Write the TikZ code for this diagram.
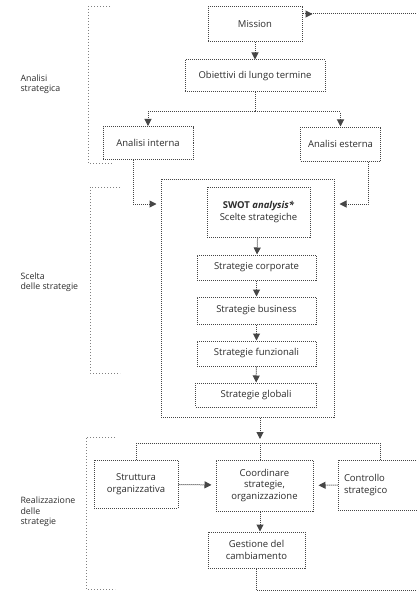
\documentclass[tikz,border=0pt]{standalone}
\usepackage{fontspec}
\setmainfont{Open Sans}
\definecolor{inkgray}{RGB}{45,45,45}
\definecolor{dotgray}{RGB}{70,70,70}
\usetikzlibrary{arrows.meta,calc}

\begin{document}
\begin{tikzpicture}[x=1pt, y=-1pt,
  box/.style={draw=dotgray, densely dotted, line width=1pt, text=inkgray, align=center, font=\fontsize{9.5}{11.5}\selectfont, inner sep=2pt},
  link/.style={draw=dotgray, densely dotted, line width=1pt},
  tip/.style={link, -{Triangle[width=7pt,length=7pt]}},
  bracket/.style={draw=gray, dotted, line width=1pt},
  phase/.style={text=inkgray, align=left, anchor=west, font=\fontsize{8.8}{10.5}\selectfont}]
  \useasboundingbox (0,0) rectangle (416,591);
  \fill[white] (0,0) rectangle (416,591);

  \node[box, minimum width=94pt, minimum height=35pt] (mission) at (255,24.5) {Mission};
  \node[box, minimum width=140pt, minimum height=32pt] (goals) at (255,76) {Obiettivi di lungo termine};
  \node[box, minimum width=90pt, minimum height=33pt] (internal) at (148,143) {Analisi interna};
  \node[box, minimum width=80pt, minimum height=34pt] (external) at (340.5,144) {Analisi esterna};
  \node[box, minimum width=173pt, minimum height=238pt] (choice) at (247.5,298) {};
  \node[box, minimum width=103pt, minimum height=50pt] (swot) at (258.5,212) {{\bfseries SWOT \itshape analysis*}\\Scelte strategiche};
  \node[box, minimum width=119pt, minimum height=25pt] (corporate) at (256.5,267.5) {Strategie corporate};
  \node[box, minimum width=119pt, minimum height=27pt] (business) at (256.5,310.5) {Strategie business};
  \node[box, minimum width=119pt, minimum height=25pt] (functional) at (256.5,353.5) {Strategie funzionali};
  \node[box, minimum width=121pt, minimum height=24pt] (global) at (256,395) {Strategie globali};
  \node[box, minimum width=84pt, minimum height=48pt] (structure) at (136,484) {Struttura\\organizzativa};
  \node[box, minimum width=97pt, minimum height=51pt] (coord) at (264.5,485.5) {Coordinare\\strategie,\\organizzazione};
  \node[box, minimum width=92pt, minimum height=50pt, text width=80pt, align=left] (control) at (384,485) {Controllo\\strategico};
  \node[box, minimum width=97pt, minimum height=36pt] (change) at (256.5,550) {Gestione del\\cambiamento};

  \node[phase] (p1) at (17,84) {Analisi\\strategica};
  \node[phase] (p2) at (17,282) {Scelta\\delle strategie};
  \node[phase] (p3) at (17,512) {Realizzazione\\delle\\strategie};

  \coordinate (fbtop) at (420,14);
  \coordinate (fbbot) at (420,590);
  \coordinate (fork1) at (255,112);
  \coordinate (fork2) at (260,443);
  \coordinate (fork3) at (380,443);

  \draw[tip] (fbtop) -- (fbtop -| mission.east) -- ++(10,0);
  \draw[tip] (mission) -- (goals);
  \draw[link] (goals.south) -- (fork1);
  \draw[tip] (fork1) -| (internal.north);
  \draw[tip] (fork1) -| (external.north);
  \draw[tip, shorten >=4pt] ([xshift=-15pt]internal.south) |- ([yshift=94pt]choice.west);
  \draw[tip, shorten >=5pt] ([xshift=28pt]external.south) |- ([yshift=94pt]choice.east);
  \draw[tip] (swot) -- (corporate);
  \draw[tip] (corporate) -- (business);
  \draw[tip] (business) -- (functional);
  \draw[tip] (functional) -- (global);
  \draw[tip, shorten >=4pt] (choice.south -| fork2) -- (fork2);
  \draw[link] (structure.north) |- (fork3) -- (fork3 |- control.north);
  \draw[link] (fork2) -- (fork2 |- coord.north);
  \draw[tip, shorten >=4pt] (structure) -- (coord);
  \draw[tip, shorten >=5pt] (control) -- (coord);
  \draw[tip] (coord.south -| fork2) -- (change.north -| fork2);
  \draw[link] (change.south) |- (fbbot);

  \draw[bracket] (110,7) -- (88,7) -- (88,163) -- (113,163);
  \draw[bracket] (120,187) -- (90,187) -- (90,373) -- (120,373);
  \draw[bracket] (115,437) -- (86,437) -- (86,589) -- (115,589);
\end{tikzpicture}
\end{document}
